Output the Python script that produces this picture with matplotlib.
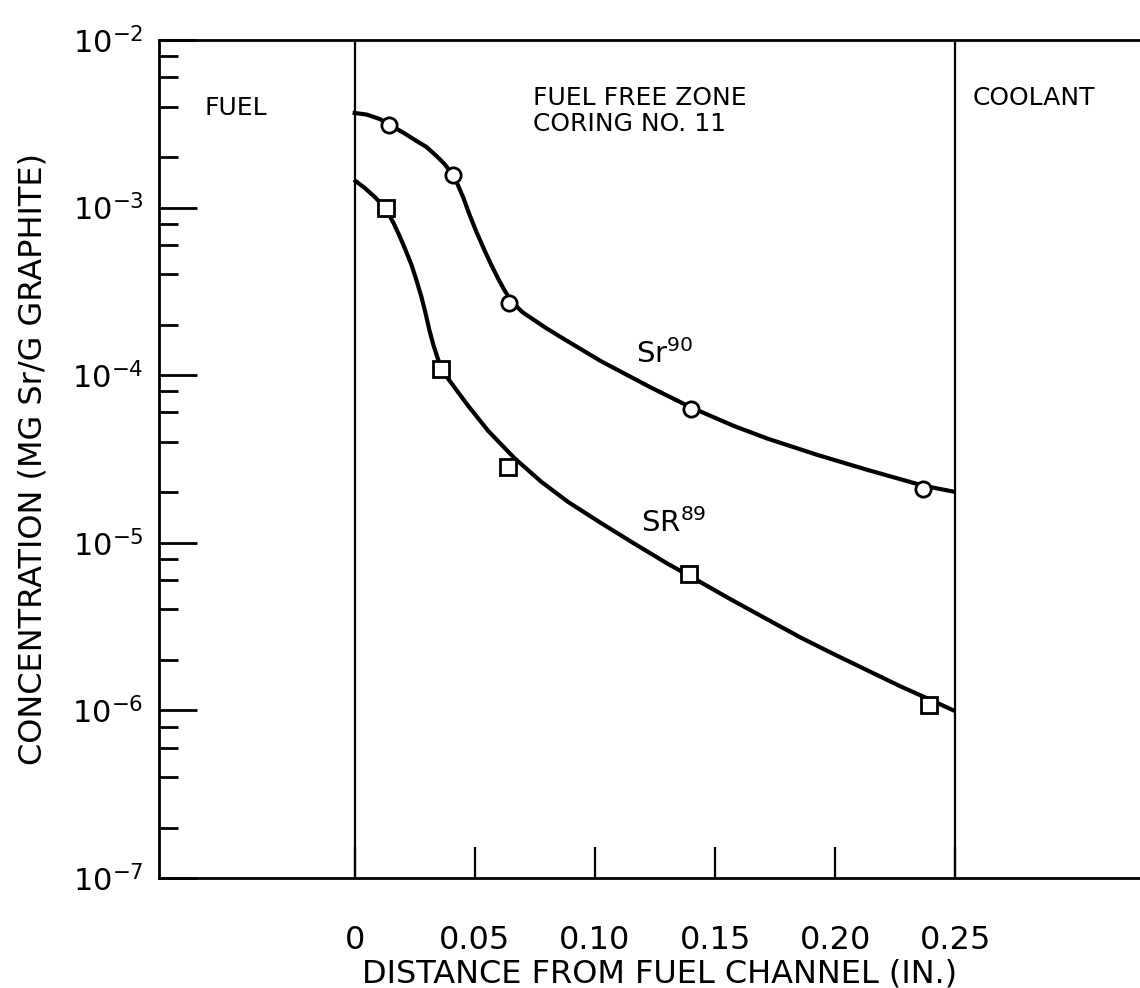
import matplotlib
matplotlib.use("Agg")
import matplotlib.pyplot as plt
from matplotlib import ticker

# --- data ------------------------------------------------------------------
# measured points
sr90_x = [0.0141, 0.0411, 0.0644, 0.140, 0.2367]
sr90_y = [3.11e-3, 1.57e-3, 2.70e-4, 6.28e-5, 2.09e-5]
sr89_x = [0.0129, 0.0361, 0.0640, 0.139, 0.2388]
sr89_y = [9.95e-4, 1.09e-4, 2.83e-5, 6.52e-6, 1.08e-6]

# hand drawn curves
sr90_curve_x = [0.0, 0.0050, 0.0104, 0.0154, 0.0208, 0.0257, 0.0299, 0.0341,
                0.0374, 0.0403, 0.0428, 0.0453, 0.0477, 0.0507, 0.0540, 0.0569,
                0.0598, 0.0623, 0.0644, 0.0668, 0.0698, 0.0735, 0.0797, 0.0860,
                0.1026, 0.1233, 0.1400, 0.1578, 0.1719, 0.1927, 0.2135, 0.2367,
                0.2492]
sr90_curve_y = [3.67e-3, 3.59e-3, 3.38e-3, 3.07e-3, 2.77e-3, 2.50e-3, 2.30e-3,
                2.03e-3, 1.82e-3, 1.61e-3, 1.38e-3, 1.14e-3, 9.16e-4, 7.15e-4,
                5.58e-4, 4.54e-4, 3.75e-4, 3.22e-4, 2.89e-4, 2.62e-4, 2.38e-4,
                2.19e-4, 1.91e-4, 1.68e-4, 1.21e-4, 8.44e-5, 6.42e-5, 4.98e-5,
                4.18e-5, 3.34e-5, 2.72e-5, 2.19e-5, 2.02e-5]
sr89_curve_x = [0.0004, 0.0042, 0.0083, 0.0112, 0.0137, 0.0162, 0.0187, 0.0212,
                0.0237, 0.0257, 0.0278, 0.0295, 0.0311, 0.0328, 0.0345, 0.0361,
                0.0390, 0.0473, 0.0556, 0.0664, 0.0777, 0.0889, 0.1026, 0.1163,
                0.1304, 0.1391, 0.1553, 0.1719, 0.1856, 0.1993, 0.2135, 0.2272,
                0.2388, 0.2492]
sr89_curve_y = [1.44e-3, 1.31e-3, 1.16e-3, 1.05e-3, 9.41e-4, 8.09e-4, 6.77e-4,
                5.58e-4, 4.54e-4, 3.70e-4, 2.93e-4, 2.35e-4, 1.86e-4, 1.51e-4,
                1.27e-4, 1.10e-4, 9.49e-5, 6.55e-5, 4.65e-5, 3.21e-5, 2.31e-5,
                1.75e-5, 1.31e-5, 9.90e-6, 7.48e-6, 6.38e-6, 4.70e-6, 3.48e-6,
                2.72e-6, 2.17e-6, 1.73e-6, 1.39e-6, 1.17e-6, 1.00e-6]

zone_edges = [0.0, 0.25]
xticks = [0.0, 0.05, 0.10, 0.15, 0.20, 0.25]
xtick_labels = ["0", "0.05", "0.10", "0.15", "0.20", "0.25"]
yticks = [1e-7, 1e-6, 1e-5, 1e-4, 1e-3, 1e-2]
ytick_labels = [r"$10^{-7}$", r"$10^{-6}$", r"$10^{-5}$",
                r"$10^{-4}$", r"$10^{-3}$", r"$10^{-2}$"]

# --- figure ----------------------------------------------------------------
plt.rcParams["font.family"] = ["DejaVu Sans"]
plt.rcParams["mathtext.fontset"] = "dejavusans"

W, H = 1140, 988
fig = plt.figure(figsize=(W / 100, H / 100), dpi=100)
ax = fig.add_axes([159 / W, 110 / H, (W - 159) / W, 838 / H])

ax.set_yscale("log")
ax.set_xlim(-0.0814, 0.3268)
ax.set_ylim(1e-7, 1e-2)

for side in ["left", "bottom", "top"]:
    ax.spines[side].set_linewidth(2.0)
ax.spines["right"].set_visible(False)

for xe in zone_edges:
    ax.axvline(xe, color="black", lw=1.6, zorder=1)

ax.plot(sr90_curve_x, sr90_curve_y, color="black", lw=3.0, zorder=2,
        solid_joinstyle="round")
ax.plot(sr89_curve_x, sr89_curve_y, color="black", lw=3.0, zorder=2,
        solid_joinstyle="round")
ax.plot(sr90_x, sr90_y, "o", ms=11, mfc="white", mec="black", mew=2.0, zorder=3)
ax.plot(sr89_x, sr89_y, "s", ms=11, mfc="white", mec="black", mew=2.0, zorder=3)

# ticks
ax.set_xticks(xticks, labels=xtick_labels)
ax.tick_params(axis="x", direction="in", length=22, width=1.6, pad=34,
               labelsize=23, top=False)
ax.set_yticks(yticks, labels=ytick_labels)
ax.yaxis.set_minor_locator(ticker.LogLocator(base=10, subs=(2.0, 4.0, 6.0, 8.0)))
ax.yaxis.set_minor_formatter(ticker.NullFormatter())
ax.tick_params(axis="y", which="major", direction="in", length=27, width=2.0,
               pad=11, labelsize=22, right=False)
ax.tick_params(axis="y", which="minor", direction="in", length=14, width=2.0,
               right=False)

ax.set_xlabel("DISTANCE FROM FUEL CHANNEL (IN.)", fontsize=23)
ax.xaxis.set_label_coords(0.510, -0.096)
ax.set_ylabel("CONCENTRATION (MG Sr/G GRAPHITE)", fontsize=23)
ax.yaxis.set_label_coords(-0.113, 0.5)

# region and curve labels
ax.text(-0.0623, 3.57e-3, "FUEL", fontsize=18, ha="left", va="baseline")
ax.text(0.0743, 3.77e-3, "FUEL FREE ZONE\nCORING NO. 11", fontsize=18,
        ha="left", va="center", linespacing=1.15)
ax.text(0.257, 4.09e-3, "COOLANT", fontsize=18, ha="left", va="baseline")
ax.text(0.117, 1.18e-4, r"Sr$^{90}$", fontsize=21, ha="left", va="baseline")
ax.text(0.119, 1.16e-5, r"SR$^{89}$", fontsize=21, ha="left", va="baseline")

fig.savefig("out.png", dpi=100, facecolor="white")
